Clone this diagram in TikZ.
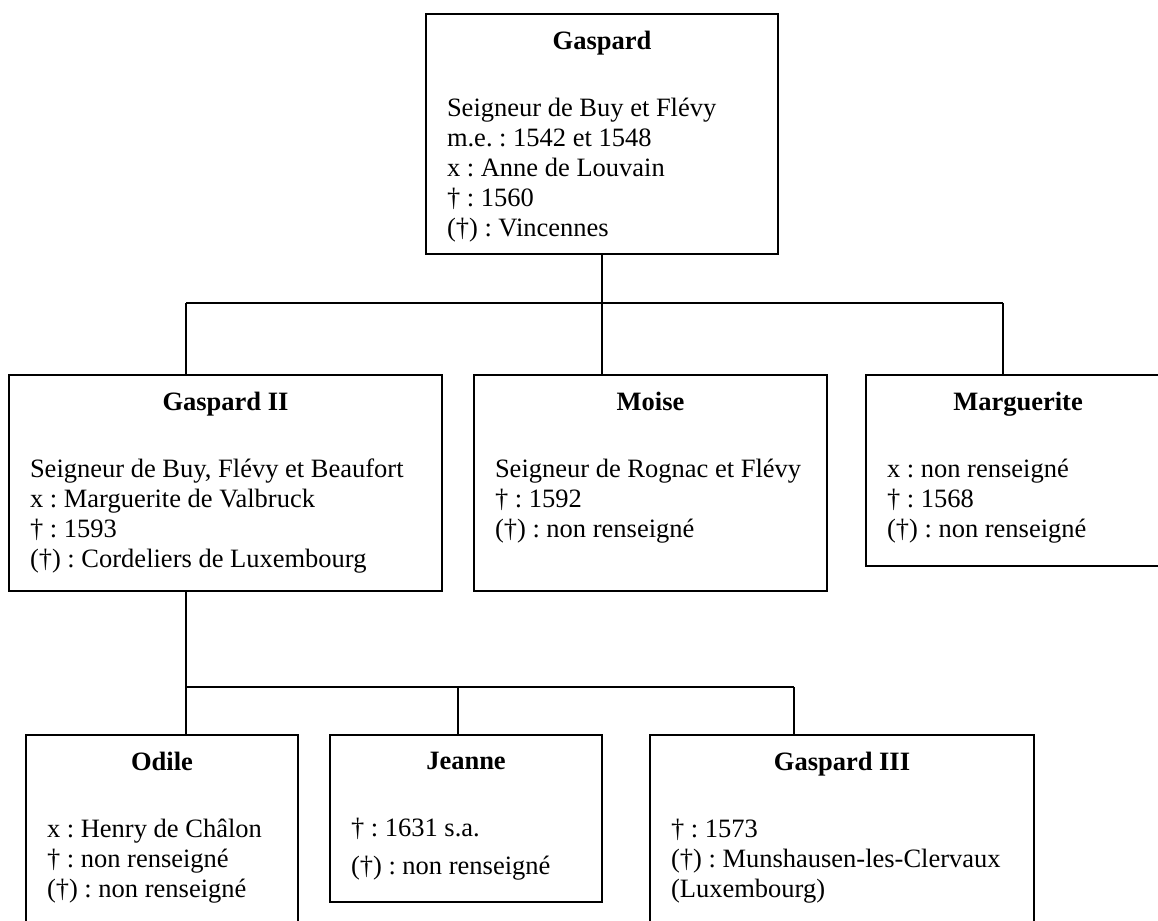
\documentclass[tikz,border=0pt]{standalone}
\usepackage{fontspec}
\setmainfont{Liberation Serif}
\usepackage{tikz}

\newcommand{\fiche}[4]{\parbox[t][#2][t]{#1}{\frenchspacing\vspace*{17pt}\centering\textbf{#3}\par\vspace{37.5pt}\raggedright\leftskip=21pt #4\par}}

\begin{document}
\begin{tikzpicture}[x=1pt,y=-1pt,line width=1.8pt,
person node/.style={draw,rectangle,anchor=north west,inner sep=0pt,outer sep=0pt,font=\fontsize{26.5}{30}\selectfont}]
\useasboundingbox (0,0) rectangle (1158,920);

\node[person node] (1) at (426,14) {\fiche{352pt}{240pt}{Gaspard}{Seigneur de Buy et Flévy\\ m.e. : 1542 et 1548\\ x : Anne de Louvain\\ † : 1560\\ (†) : Vincennes}};

\node[person node] (2) at (9,375) {\fiche{433pt}{216pt}{Gaspard II}{Seigneur de Buy, Flévy et Beaufort\\ x : Marguerite de Valbruck\\ † : 1593\\ (†) : Cordeliers de Luxembourg}};
\node[person node] (3) at (474,375) {\fiche{353pt}{216pt}{Moise}{Seigneur de Rognac et Flévy\\ † : 1592\\ (†) : non renseigné}};
\node[person node] (4) at (866,375) {\fiche{304pt}{191pt}{Marguerite}{x : non renseigné\\ † : 1568\\ (†) : non renseigné}};

\node[person node] (5) at (26,735) {\fiche{272pt}{192pt}{Odile}{x : Henry de Châlon\\ † : non renseigné\\ (†) : non renseigné}};
\node[person node] (6) at (330,735) {\fiche{272pt}{167pt}{Jeanne}{† : 1631 s.a.\\[8pt] (†) : non renseigné}};
\node[person node] (7) at (650,735) {\fiche{384pt}{192pt}{Gaspard III}{† : 1573\\ (†) : Munshausen-les-Clervaux\\ (Luxembourg)}};

% first generation
\coordinate (b1) at (602,303);
\coordinate (b1l) at (186,303);
\coordinate (b1r) at (1003,303);
\draw (1.south) -- (b1);
\draw (b1l) -- (b1r);
\draw (b1l) -- (b1l |- 2.north);
\draw (b1) -- (b1 |- 3.north);
\draw (b1r) -- (b1r |- 4.north);

% second generation
\coordinate (b2l) at (186,687);
\coordinate (b2m) at (458,687);
\coordinate (b2r) at (794,687);
\draw (b2l |- 2.south) -- (b2l) -- (b2r);
\draw (b2l) -- (b2l |- 5.north);
\draw (b2m) -- (b2m |- 6.north);
\draw (b2r) -- (b2r |- 7.north);
\end{tikzpicture}
\end{document}
